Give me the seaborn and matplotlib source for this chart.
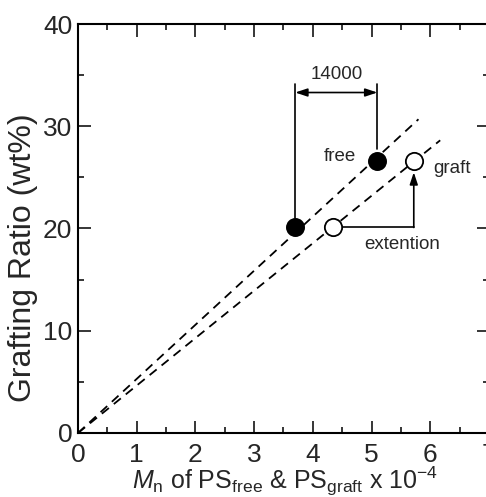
import numpy as np
import pandas as pd
import matplotlib
matplotlib.use("Agg")
import matplotlib.pyplot as plt
import seaborn as sns
from matplotlib.ticker import MultipleLocator

sns.set_style("ticks")
plt.rcParams['font.family'] = ['Liberation Sans', 'DejaVu Sans']
plt.rcParams['mathtext.fontset'] = 'custom'
plt.rcParams['mathtext.rm'] = 'Liberation Sans'
plt.rcParams['mathtext.it'] = 'Liberation Sans:italic'

# data
mn_free = [3.7, 5.1]
ratio_free = [20.1, 26.6]
mn_graft = [4.35, 5.72]
ratio_graft = [20.1, 26.6]
line_end_free = 5.8
line_end_graft = 6.17
x_ticks = [0, 1, 2, 3, 4, 5, 6, 7]
y_ticks = [0, 10, 20, 30, 40]

fig = plt.figure(figsize=(4.86, 4.97), dpi=100)
ax = fig.add_axes([0.1605, 0.1288, 0.8455, 0.8229])

# dashed lines through origin (least squares slope through origin)
fx, fy = np.array(mn_free), np.array(ratio_free)
gx, gy = np.array(mn_graft), np.array(ratio_graft)
slope_free = np.sum(fx * fy) / np.sum(fx ** 2)
slope_graft = np.sum(gx * gy) / np.sum(gx ** 2)
lines = pd.DataFrame({
    'x': [0, line_end_free, 0, line_end_graft],
    'y': [0, slope_free * line_end_free, 0, slope_graft * line_end_graft],
    'kind': ['free', 'free', 'graft', 'graft'],
})
sns.lineplot(data=lines, x='x', y='y', units='kind', estimator=None, color='black',
             lw=1.3, ls=(0, (5, 3.5)), ax=ax, legend=False)

df_free = pd.DataFrame({'x': mn_free, 'y': ratio_free})
df_graft = pd.DataFrame({'x': mn_graft, 'y': ratio_graft})
sns.scatterplot(data=df_free, x='x', y='y', s=155, color='black', edgecolor='black',
                linewidth=1.2, ax=ax, zorder=5)
sns.scatterplot(data=df_graft, x='x', y='y', s=155, color='white', edgecolor='black',
                linewidth=1.3, ax=ax, zorder=5)

# 14000 bracket
top_y = 34.1
ax.plot([mn_free[0], mn_free[0]], [ratio_free[0] + 0.9, top_y], color='black', lw=1.2)
ax.plot([mn_free[1], mn_free[1]], [ratio_free[1] + 1.2, top_y], color='black', lw=1.2)
ax.annotate('', xy=(mn_free[0], 33.3), xytext=(mn_free[1], 33.3),
            arrowprops=dict(arrowstyle='<|-|>,head_length=0.6,head_width=0.2', color='black', lw=1.2,
                            shrinkA=0, shrinkB=0, mutation_scale=12))
ax.text(4.40, 35.1, '14000', ha='center', va='center', fontsize=13.5)

ax.text(4.46, 27.0, 'free', ha='center', va='center', fontsize=13.5)
ax.text(6.37, 25.9, 'graft', ha='center', va='center', fontsize=13.5)
ax.text(5.52, 18.4, 'extention', ha='center', va='center', fontsize=13.5)

# extension arrow
ax.plot([mn_graft[0] + 0.15, mn_graft[1]], [ratio_graft[0], ratio_graft[0]], color='black', lw=1.2)
ax.annotate('', xy=(mn_graft[1], 25.5), xytext=(mn_graft[1], ratio_graft[0]),
            arrowprops=dict(arrowstyle='-|>,head_length=0.6,head_width=0.2', color='black', lw=1.2,
                            shrinkA=0, shrinkB=0, mutation_scale=12))

ax.set_xlim(0, 7)
ax.set_ylim(0, 40)
ax.set_xticks(x_ticks)
ax.set_yticks(y_ticks)
ax.xaxis.set_minor_locator(MultipleLocator(0.5))
ax.yaxis.set_minor_locator(MultipleLocator(5))
ax.tick_params(which='both', direction='in', top=True, right=True, width=1.3, labelsize=19)
ax.tick_params(axis='x', which='major', pad=7)
ax.tick_params(axis='y', which='major', pad=4)
ax.tick_params(which='major', length=9)
ax.tick_params(which='minor', length=4.5)
for sp in ax.spines.values():
    sp.set_linewidth(1.5)
    sp.set_color('black')

ax.set_xlabel(r'$M_\mathrm{n}$ of PS$_\mathrm{free}$ & PS$_\mathrm{graft}$ x 10$^{-4}$', fontsize=18)
ax.set_ylabel('Grafting Ratio (wt%)', fontsize=23)
ax.xaxis.set_label_coords(0.504, -0.079)
ax.yaxis.set_label_coords(-0.097, 0.428)

fig.savefig('out.png', dpi=100)
